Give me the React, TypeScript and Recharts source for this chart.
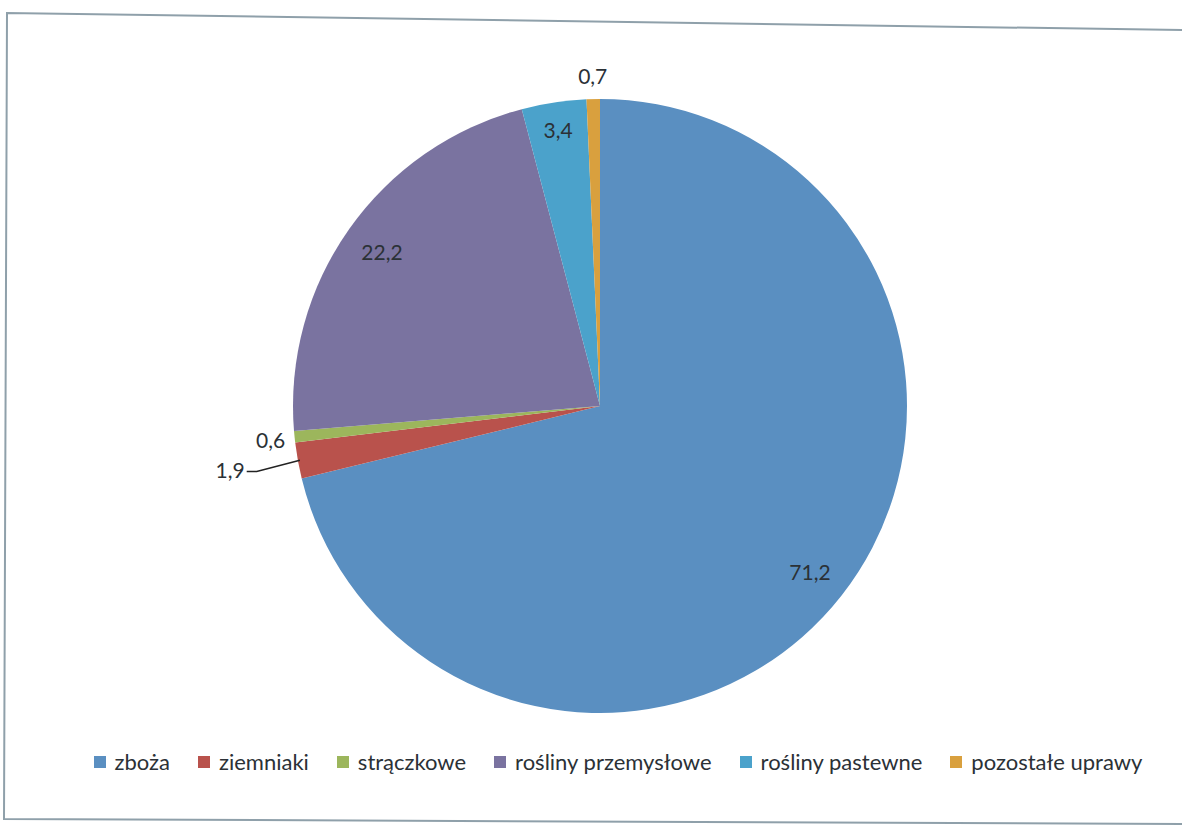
import { PieChart, Pie, Cell, Legend } from "recharts";

const categories = [
  "zboża",
  "ziemniaki",
  "strączkowe",
  "rośliny przemysłowe",
  "rośliny pastewne",
  "pozostałe uprawy",
];
const shares = [71.2, 1.9, 0.6, 22.2, 3.4, 0.7];
const colors = ["#5a8fc1", "#b9524c", "#9cb65c", "#7a73a0", "#4ba2cb", "#d9a03e"];

const data = categories.map((name, i) => ({ name, value: shares[i] }));

const RAD = Math.PI / 180;
const FONT = "Lato, 'Open Sans', sans-serif";
const INK = "#2b3136";
const fmt = (v: number) => v.toFixed(1).replace(".", ",");

function renderLabel(props: any) {
  const { cx, cy, midAngle, outerRadius, index, value } = props;
  const at = (r: number) => ({
    x: cx + r * Math.cos(-midAngle * RAD),
    y: cy + r * Math.sin(-midAngle * RAD),
  });
  const style = { fontFamily: FONT, fontSize: 21, fill: INK };

  if (index === 1) {
    // small slice: leader line to the left
    const edge = at(outerRadius - 2);
    const p = at(outerRadius + 50);
    return (
      <g>
        <polyline
          points={`${edge.x},${edge.y} ${p.x + 8},${p.y + 2} ${p.x - 2},${p.y + 2}`}
          fill="none"
          stroke="#222"
          strokeWidth={1.5}
        />
        <text x={p.x - 4} y={p.y} textAnchor="end" dominantBaseline="central" {...style}>
          {fmt(value)}
        </text>
      </g>
    );
  }
  let r = outerRadius * 0.87;
  if (index === 4) r = outerRadius * 0.91;
  if (index === 2) r = outerRadius + 24;
  if (index === 5) r = outerRadius + 24;
  const p = at(r);
  return (
    <text x={p.x} y={p.y} textAnchor="middle" dominantBaseline="central" {...style}>
      {fmt(value)}
    </text>
  );
}

function LegendBox() {
  return (
    <div
      style={{
        display: "flex",
        justifyContent: "center",
        alignItems: "center",
        fontFamily: FONT,
        fontSize: 22,
        color: INK,
      }}
    >
      {categories.map((c, i) => (
        <span key={c} style={{ display: "flex", alignItems: "center", margin: "0 14px" }}>
          <span
            style={{ width: 12, height: 12, background: colors[i], display: "inline-block", marginRight: 9 }}
          />
          {c}
        </span>
      ))}
    </div>
  );
}

export default function App() {
  return (
    <div style={{ position: "absolute", left: 0, top: 0, width: 1182, height: 826, background: "#fff" }}>
      <svg width={1182} height={826} style={{ position: "absolute", left: 0, top: 0 }}>
        <polyline
          points="1182,30 7,13 4,819 1182,824"
          fill="none"
          stroke="#8fa0aa"
          strokeWidth={2}
        />
      </svg>
      <div style={{ position: "absolute", left: 0, top: 0 }}>
        <PieChart width={1182} height={826} margin={{ top: 0, right: 0, bottom: 0, left: 0 }}>
          <Pie
            data={data}
            dataKey="value"
            nameKey="name"
            cx={600}
            cy={406}
            outerRadius={307}
            startAngle={90}
            endAngle={-270}
            stroke="none"
            label={renderLabel}
            labelLine={false}
            isAnimationActive={false}
          >
            {data.map((d, i) => (
              <Cell key={d.name} fill={colors[i]} />
            ))}
          </Pie>
          <Legend
            content={() => <LegendBox />}
            wrapperStyle={{ top: 748, left: 18, width: 1200 }}
          />
        </PieChart>
      </div>
    </div>
  );
}
